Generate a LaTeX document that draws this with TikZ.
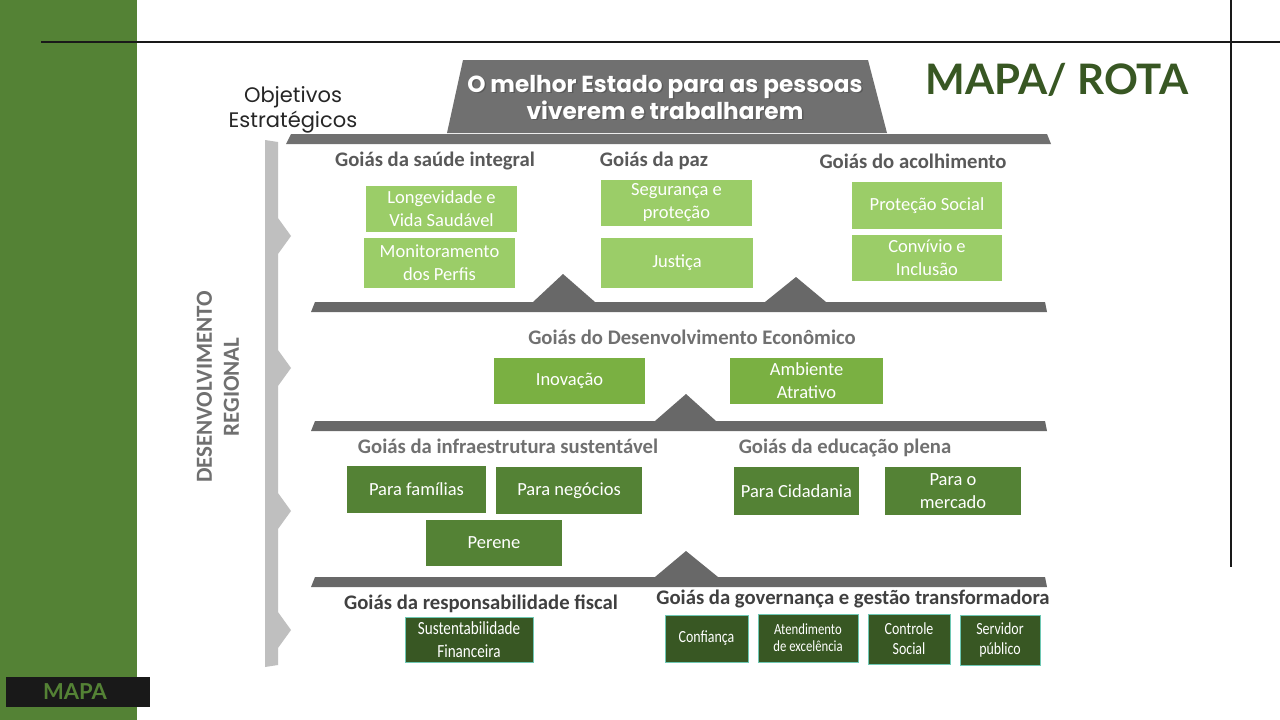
\documentclass[tikz,border=0pt]{standalone}
\usepackage{fontspec}
\setmainfont{Carlito}
\newfontfamily\hdrfont{Poppins}
\newfontfamily\mapafont{Lato}
\newfontfamily\condfont[FakeStretch=0.82]{Carlito}
\definecolor{stripg}{RGB}{84,130,53}
\definecolor{lightg}{RGB}{155,205,104}
\definecolor{midg}{RGB}{122,176,66}
\definecolor{darkg}{RGB}{84,130,53}
\definecolor{darkestg}{RGB}{56,87,35}
\definecolor{bargray}{RGB}{104,104,104}
\definecolor{hdrgray}{RGB}{112,112,112}
\definecolor{vbar}{RGB}{191,191,191}
\definecolor{titlegray}{RGB}{89,89,89}
\definecolor{econgray}{RGB}{112,112,112}
\definecolor{darktitle}{RGB}{64,64,64}
\definecolor{tealedge}{RGB}{110,200,180}
\tikzset{
  gbox/.style={fill=#1, text=white, inner sep=0pt, align=center, font=\fontsize{18.5}{23}\selectfont},
  sbox/.style={gbox=darkestg, draw=tealedge, line width=0.8pt},
  sectitle/.style={font=\bfseries\fontsize{20.7}{22}\selectfont, text=titlegray, inner sep=0pt},
}
\begin{document}
\begin{tikzpicture}[x=1pt,y=-1pt]
\useasboundingbox (0,0) rectangle (1280,720);
\fill[white] (0,0) rectangle (1280,720);
% left strip
\fill[stripg] (0,0) rectangle (137,720);
\fill[black!90] (6,677) rectangle (150,707);
\node[font=\mapafont\bfseries\fontsize{22}{24}\selectfont, text=stripg, inner sep=0pt] (mapa) at (75,692) {MAPA};
% frame lines
\draw[line width=2.5pt, black!90] (41,42) -- (1280,42);
\draw[line width=2.5pt, black!90] (1231,0) -- (1231,567);
% title
\node[font=\mapafont\bfseries\fontsize{42}{44}\selectfont, text=darkestg, inner sep=0pt] (rota) at (1057,80) {MAPA/ ROTA};
% header trapezoid
\fill[hdrgray] (463,60) -- (868,60) -- (887,133) -- (447,133) -- cycle;
\node[font=\hdrfont\bfseries\fontsize{23.2}{27}\selectfont, text=black!70, opacity=0.6, align=center, inner sep=0pt] (hdrshadow) at (666.5,99) {O melhor Estado para as pessoas\\viverem e trabalharem};
\node[font=\hdrfont\bfseries\fontsize{23.2}{27}\selectfont, text=white, align=center, inner sep=0pt] (hdr) at (665,97.5) {O melhor Estado para as pessoas\\viverem e trabalharem};
\node[font=\hdrfont\fontsize{21}{25}\selectfont, text=black!85, align=center, inner sep=0pt] (obj) at (293,110) {Objetivos\\Estratégicos};
% top bar
\fill[hdrgray] (291,134) -- (1047,134) -- (1051,144) -- (286,144) -- cycle;
% vertical bar
\fill[vbar] (265,140) -- (278,142) -- (278,218) -- (291,236) -- (278,254) -- (278,350) -- (291,368) -- (278,386) -- (278,493) -- (291,511) -- (278,529) -- (278,612) -- (291,630) -- (278,648) -- (278,665) -- (265,667) -- cycle;
\node[rotate=90, font=\bfseries\fontsize{23}{27}\selectfont, text=econgray, align=center, inner sep=0pt] (desreg) at (218,387) {DESENVOLVIMENTO\\REGIONAL};
% bars with peaks
\fill[bargray] (315,302) -- (533,302) -- (563,274) -- (595,302) -- (765,302) -- (796,277) -- (826,302) -- (1045,302) -- (1047,312) -- (311,312) -- cycle;
\fill[bargray] (315,421) -- (655,421) -- (686,394) -- (716,421) -- (1045,421) -- (1047,431) -- (311,431) -- cycle;
\fill[bargray] (315,577) -- (655,577) -- (686,551) -- (718,577) -- (1045,577) -- (1047,587) -- (311,587) -- cycle;
% section titles
\node[sectitle] (t1) at (435,161) {Goiás da saúde integral};
\node[sectitle] (t2) at (654,161) {Goiás da paz};
\node[sectitle] (t3) at (913,161) {Goiás do acolhimento};
\node[sectitle, text=econgray] (t4) at (692,337) {Goiás do Desenvolvimento Econômico};
\node[sectitle, text=econgray] (t5) at (508,446) {Goiás da infraestrutura sustentável};
\node[sectitle, text=econgray] (t6) at (845,448) {Goiás da educação plena};
\node[sectitle, text=darktitle] (t7) at (481,604) {Goiás da responsabilidade fiscal};
\node[sectitle, text=darktitle] (t8) at (853,599) {Goiás da governança e gestão transformadora};
% light green boxes
\node[gbox=lightg, minimum width=151, minimum height=46] (b1) at (441.5,209) {Longevidade e\\Vida Saudável};
\node[gbox=lightg, minimum width=151, minimum height=50] (b2) at (439.5,263) {Monitoramento\\dos Perfis};
\node[gbox=lightg, minimum width=151, minimum height=46] (b3) at (676.5,203) {Segurança e\\proteção};
\node[gbox=lightg, minimum width=152, minimum height=50] (b4) at (677,263) {Justiça};
\node[gbox=lightg, minimum width=150, minimum height=47] (b5) at (927,205.5) {Proteção Social};
\node[gbox=lightg, minimum width=150, minimum height=46] (b6) at (927,258) {Convívio e\\Inclusão};
% mid green
\node[gbox=midg, minimum width=151, minimum height=46] (b7) at (569.5,381) {Inovação};
\node[gbox=midg, minimum width=153, minimum height=46] (b8) at (806.5,381) {Ambiente\\Atrativo};
% dark green
\node[gbox=darkg, minimum width=139, minimum height=47] (b9) at (416.5,489.5) {Para famílias};
\node[gbox=darkg, minimum width=146, minimum height=47] (b10) at (569,490.5) {Para negócios};
\node[gbox=darkg, minimum width=136, minimum height=46] (b11) at (494,543) {Perene};
\node[gbox=darkg, minimum width=125, minimum height=48] (b12) at (796.5,491) {Para Cidadania};
\node[gbox=darkg, minimum width=136, minimum height=48] (b13) at (953,491) {Para o\\mercado};
% darkest green
\node[sbox, minimum width=128, minimum height=45, font=\condfont\fontsize{18.5}{23}\selectfont] (b14) at (469,639.5) {Sustentabilidade\\Financeira};
\node[sbox, minimum width=83, minimum height=47, font=\condfont\fontsize{17}{20}\selectfont] (b15) at (706.5,638.5) {Confiança};
\node[sbox, minimum width=100, minimum height=48, font=\condfont\fontsize{15.5}{17}\selectfont] (b16) at (808,638) {Atendimento\\de excelência};
\node[sbox, minimum width=82, minimum height=50, font=\condfont\fontsize{17}{20}\selectfont] (b17) at (909,639) {Controle\\Social};
\node[sbox, minimum width=80, minimum height=50, font=\condfont\fontsize{17}{20}\selectfont] (b18) at (1000,640) {Servidor\\público};
\end{tikzpicture}
\end{document}
